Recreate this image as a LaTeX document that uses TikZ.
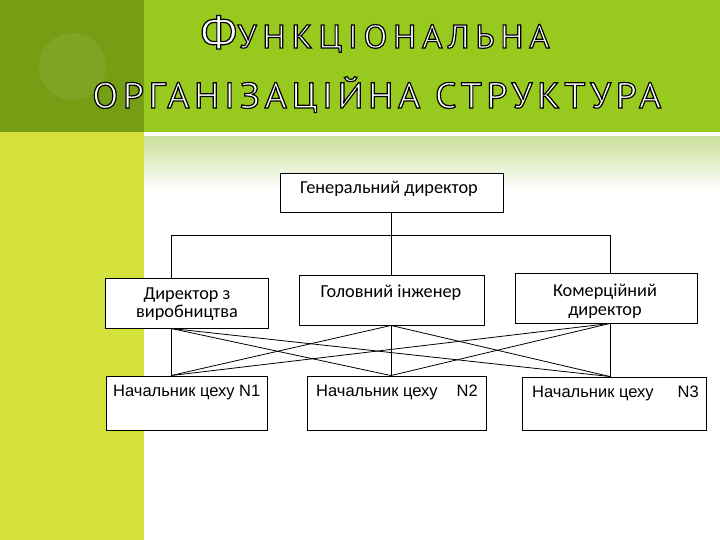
\documentclass[tikz,border=0pt]{standalone}
\usepackage{fontspec}
\setmainfont{Carlito}
\newfontfamily\titlefonta[FakeStretch=1.06,LetterSpace=16.8]{PT Sans}
\newfontfamily\titlefontb[FakeStretch=1.06,LetterSpace=12.3]{PT Sans}
\newfontfamily\boxfontb{Liberation Sans}
\usetikzlibrary{calc}
\definecolor{hdrdark}{RGB}{118,158,20}
\definecolor{hdrgreen}{RGB}{152,201,30}
\definecolor{sidelime}{RGB}{212,225,58}
\definecolor{gradtop}{RGB}{203,224,155}
\newcommand{\outlinedtext}[1]{{\color{white}\special{pdf:literal direct 2 Tr 0 0 0 RG 1.2 w}#1\special{pdf:literal direct 0 Tr 0.4 w}}}
\begin{document}
\begin{tikzpicture}[x=1pt,y=-1pt,
  box/.style={draw=black, line width=0.9pt, fill=white, inner sep=0pt},
  conn/.style={draw=black, line width=0.8pt},
  boxtxt/.style={inner sep=0pt, font=\fontsize{18.3}{20}\selectfont},
  lowtxt/.style={inner sep=0pt, anchor=base west, font=\boxfontb\fontsize{16.5}{18}\selectfont},
  ttl/.style={inner sep=0pt, anchor=base west}]
\useasboundingbox (0,0) rectangle (720,540);
\fill[white] (0,0) rectangle (720,540);
\fill[hdrgreen] (144,0) rectangle (720,132);
\fill[hdrdark] (0,0) rectangle (144,132);
\fill[white, opacity=0.07] (72.5,66.5) circle (33.5pt);
\fill[sidelime] (0,132) rectangle (144,540);
\shade[top color=gradtop, bottom color=white] (144,137) rectangle (720,190);
% title
\node[ttl] (t1) at (200,48) {\titlefonta\outlinedtext{\fontsize{45}{45}\selectfont Ф\fontsize{33}{33}\selectfont УНКЦІОНАЛЬНА}};
\node[ttl] (t2) at (92,108) {\titlefontb\outlinedtext{\fontsize{36}{36}\selectfont ОРГАНІЗАЦІЙНА СТРУКТУРА}};
% boxes
\node[box, minimum width=223pt, minimum height=39pt] (gd) at (391.5,192.5) {};
\node[box, minimum width=163pt, minimum height=50pt] (dv) at (186.5,303) {};
\node[box, minimum width=185pt, minimum height=50pt] (gi) at (391.5,300) {};
\node[box, minimum width=182pt, minimum height=50pt] (kd) at (606,298) {};
\node[box, minimum width=161pt, minimum height=54pt] (n1) at (186.5,403) {};
\node[box, minimum width=179pt, minimum height=54pt] (n2) at (396.5,403) {};
\node[box, minimum width=184pt, minimum height=53pt] (n3) at (614,403.5) {};
% texts
\node[boxtxt, anchor=base] (gdt) at (389,194) {Генеральний директор};
\node[boxtxt, anchor=base] (dvt1) at (187,299) {Директор з};
\node[boxtxt, anchor=base] (dvt2) at (187,317) {виробництва};
\node[boxtxt, anchor=base] (git) at (391,297.5) {Головний інженер};
\node[boxtxt, anchor=base] (kdt1) at (605,296.5) {Комерційний};
\node[boxtxt, anchor=base] (kdt2) at (605,315) {директор};
\node[lowtxt] (n1t) at (113,396.7) {Начальник цеху N1};
\node[lowtxt] (n2t) at (316,396.7) {Начальник цеху\hspace{19pt}N2};
\node[lowtxt] (n3t) at (532,397) {Начальник цеху\hspace{24pt}N3};
% connectors
\coordinate (xl) at (171,0);
\coordinate (xm) at (391,0);
\coordinate (xr) at (610,0);
\coordinate (bar) at (0,235);
\draw[conn] (gd.south -| xm) -- (gi.north -| xm);
\draw[conn] (dv.north -| xl) -- (xl |- bar) -- (xr |- bar) -- (kd.north -| xr);
\foreach \u/\ux in {dv/xl, gi/xm, kd/xr}{
  \foreach \l/\lx in {n1/xl, n2/xm, n3/xr}{
    \draw[conn] (\u.south -| \ux) -- (\l.north -| \lx);
  }
}
\end{tikzpicture}
\end{document}
